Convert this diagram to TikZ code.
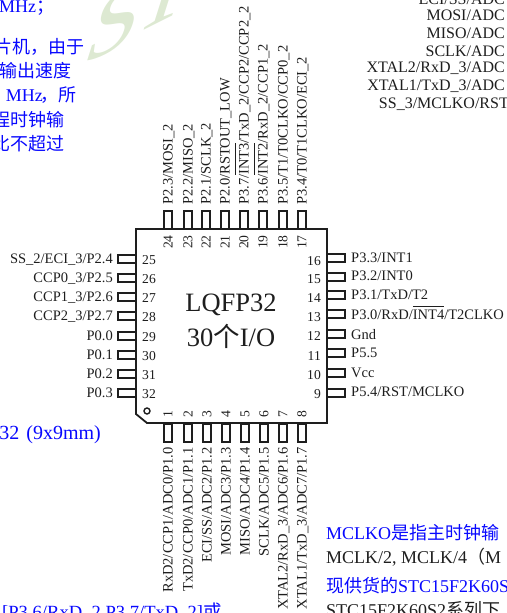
\documentclass[tikz,border=0pt]{standalone}
\usepackage{xcolor}
\usepackage{fontspec}
\setmainfont{Liberation Serif}
\newfontfamily\cjk{Noto Sans CJK SC}
\definecolor{notecolor}{HTML}{0808ff}
\definecolor{inkcolor}{HTML}{1e1e1e}
\definecolor{markcolor}{HTML}{dde9d2}
\tikzset{
  pinbox/.style={draw=inkcolor, line width=1.6pt, rectangle, inner sep=0pt, minimum width=18pt, minimum height=8pt},
  pinboxv/.style={draw=inkcolor, line width=1.6pt, rectangle, inner sep=0pt, minimum width=8pt, minimum height=18pt},
  pintext/.style={text=inkcolor, inner sep=0pt, text height=10pt, text depth=1pt, font=\fontsize{14.5pt}{16pt}\selectfont},
  pinnum/.style={text=inkcolor, inner sep=0pt, font=\fontsize{13.6pt}{15pt}\selectfont},
  bignote/.style={text=notecolor, inner sep=0pt, font=\fontsize{18pt}{20pt}\selectfont},
  darknote/.style={text=inkcolor, inner sep=0pt, font=\fontsize{18pt}{20pt}\selectfont},
  sidetext/.style={text=inkcolor, inner sep=0pt, anchor=east, font=\fontsize{16pt}{18pt}\selectfont},
  chiptext/.style={text=inkcolor, inner sep=0pt, font=\fontsize{26.5pt}{30pt}\selectfont},
  markglyph/.style={text=markcolor, inner sep=0pt, transform shape, cm={0.9,0.45,0.3,0.95,(0,0)}, font=\fontsize{105pt}{110pt}\selectfont}
}
\newcommand{\barred}[1]{$\overline{\mbox{\rule{0pt}{11.5pt}#1}}$}
\begin{document}
\begin{tikzpicture}[x=1pt, y=-1pt]%
\useasboundingbox (0,0) rectangle (506,613);%
\clip (0,0) rectangle (506,613);%
% watermark
\node[markglyph] (markS) at (117,21) {S};%
\node[markglyph] (markT) at (169,-10) {T};%
% notes, upper left
\node[bignote, anchor=west] (noteA) at (-1,8) {MHz{\cjk ；}};%
\node[bignote, anchor=east] (noteB) at (85,47) {\cjk 片机，由于};%
\node[bignote, anchor=east] (noteC) at (72,71) {\cjk 输出速度};%
\node[bignote, anchor=east] (noteD) at (77,95) {MHz\kern-2pt{\cjk ，所}};%
\node[bignote, anchor=east] (noteE) at (65,120) {\cjk 程时钟输};%
\node[bignote, anchor=east] (noteF) at (65,144) {\cjk 比不超过};%
\node[bignote, anchor=east, font=\fontsize{20pt}{22pt}\selectfont] (noteG) at (101,435) {32\hspace{7pt}(9x9mm)};%
\node[bignote, anchor=west, font=\fontsize{18.6pt}{20pt}\selectfont] (noteH) at (2,612) {[P3.6/RxD\_2,P3.7/TxD\_2]{\cjk 或}};%
% notes, upper right
\node[sidetext] (sideA) at (505,-1) {ECI/SS/ADC};%
\node[sidetext] (sideB) at (505,15) {MOSI/ADC};%
\node[sidetext] (sideC) at (505,33) {MISO/ADC};%
\node[sidetext] (sideD) at (505,51) {SCLK/ADC};%
\node[sidetext] (sideE) at (505,68) {XTAL2/RxD\_3/ADC};%
\node[sidetext] (sideF) at (505,86) {XTAL1/TxD\_3/ADC};%
\node[sidetext] (sideG) at (509,104) {SS\_3/MCLKO/RST};%
% notes, lower right
\node[bignote, anchor=west] (noteI) at (326,533) {MCLKO{\cjk 是指主时钟输}};%
\node[darknote, anchor=west] (noteJ) at (326,557) {MCLK/2, MCLK/4{\cjk （}M};%
\node[bignote, anchor=west] (noteK) at (326,586) {{\cjk 现供货的}STC15F2K60S2};%
\node[darknote, anchor=west] (noteL) at (326,610) {STC15F2K60S2{\cjk 系列下}};%
% chip
\draw[inkcolor, line width=1.8pt] (136,229) -- (327,229) -- (327,423) -- (147,423) -- (136,414) -- cycle;%
\node[chiptext] (chipA) at (231,305) {LQFP32};%
\node[chiptext] (chipB) at (231,336) {30{\cjk 个}I/O};%
\node[draw=inkcolor, line width=1.4pt, circle, inner sep=0pt, minimum size=6pt] (dotA) at (147,411) {};%
% pins, top
\node[pinboxv] (pinA) at (168,220) {};%
\node[pinboxv] (pinB) at (188,220) {};%
\node[pinboxv] (pinC) at (206,220) {};%
\node[pinboxv] (pinD) at (225,220) {};%
\node[pinboxv] (pinE) at (244,220) {};%
\node[pinboxv] (pinF) at (263,220) {};%
\node[pinboxv] (pinG) at (283,220) {};%
\node[pinboxv] (pinH) at (302,220) {};%
\node[pintext, rotate=90, anchor=west] at (168,205) {P2.3/MOSI\_2};%
\node[pintext, rotate=90, anchor=west] at (188,205) {P2.2/MISO\_2};%
\node[pintext, rotate=90, anchor=west] at (206,205) {P2.1/SCLK\_2};%
\node[pintext, rotate=90, anchor=west] at (225,205) {P2.0/RSTOUT\_LOW};%
\node[pintext, rotate=90, anchor=west] at (244,205) {P3.7/\barred{INT3}/TxD\_2/CCP2/CCP2\_2};%
\node[pintext, rotate=90, anchor=west] at (263,205) {P3.6/\barred{INT2}/RxD\_2/CCP1\_2};%
\node[pintext, rotate=90, anchor=west] at (283,205) {P3.5/T1/T0CLKO/CCP0\_2};%
\node[pintext, rotate=90, anchor=west] at (302,205) {P3.4/T0/T1CLKO/ECI\_2};%
\node[pinnum, rotate=90] at (168,242) {24};%
\node[pinnum, rotate=90] at (188,242) {23};%
\node[pinnum, rotate=90] at (206,242) {22};%
\node[pinnum, rotate=90] at (225,242) {21};%
\node[pinnum, rotate=90] at (244,242) {20};%
\node[pinnum, rotate=90] at (263,242) {19};%
\node[pinnum, rotate=90] at (283,242) {18};%
\node[pinnum, rotate=90] at (302,242) {17};%
% pins, left
\node[pinbox] (pinI) at (127,259) {};%
\node[pinbox] (pinJ) at (127,278) {};%
\node[pinbox] (pinK) at (127,297) {};%
\node[pinbox] (pinL) at (127,316) {};%
\node[pinbox] (pinM) at (127,336) {};%
\node[pinbox] (pinN) at (127,355) {};%
\node[pinbox] (pinO) at (127,374) {};%
\node[pinbox] (pinP) at (127,393) {};%
\node[pintext, anchor=east] at (113,259) {SS\_2/ECI\_3/P2.4};%
\node[pintext, anchor=east] at (113,278) {CCP0\_3/P2.5};%
\node[pintext, anchor=east] at (113,297) {CCP1\_3/P2.6};%
\node[pintext, anchor=east] at (113,316) {CCP2\_3/P2.7};%
\node[pintext, anchor=east] at (113,336) {P0.0};%
\node[pintext, anchor=east] at (113,355) {P0.1};%
\node[pintext, anchor=east] at (113,374) {P0.2};%
\node[pintext, anchor=east] at (113,393) {P0.3};%
\node[pinnum] at (149,260) {25};%
\node[pinnum] at (149,279) {26};%
\node[pinnum] at (149,298) {27};%
\node[pinnum] at (149,317) {28};%
\node[pinnum] at (149,337) {29};%
\node[pinnum] at (149,356) {30};%
\node[pinnum] at (149,375) {31};%
\node[pinnum] at (149,394) {32};%
% pins, bottom
\node[pinboxv] (pinQ) at (168,433) {};%
\node[pinboxv] (pinR) at (188,433) {};%
\node[pinboxv] (pinS) at (207,433) {};%
\node[pinboxv] (pinT) at (226,433) {};%
\node[pinboxv] (pinU) at (245,433) {};%
\node[pinboxv] (pinV) at (264,433) {};%
\node[pinboxv] (pinW) at (283,433) {};%
\node[pinboxv] (pinX) at (302,433) {};%
\node[pintext, rotate=90, anchor=east] at (168,447) {RxD2/CCP1/ADC0/P1.0};%
\node[pintext, rotate=90, anchor=east] at (188,447) {TxD2/CCP0/ADC1/P1.1};%
\node[pintext, rotate=90, anchor=east] at (207,447) {ECI/SS/ADC2/P1.2};%
\node[pintext, rotate=90, anchor=east] at (226,447) {MOSI/ADC3/P1.3};%
\node[pintext, rotate=90, anchor=east] at (245,447) {MISO/ADC4/P1.4};%
\node[pintext, rotate=90, anchor=east] at (264,447) {SCLK/ADC5/P1.5};%
\node[pintext, rotate=90, anchor=east] at (283,447) {XTAL2/RxD\_3/ADC6/P1.6};%
\node[pintext, rotate=90, anchor=east] at (302,447) {XTAL1/TxD\_3/ADC7/P1.7};%
\node[pinnum, rotate=90] at (168,414) {1};%
\node[pinnum, rotate=90] at (188,414) {2};%
\node[pinnum, rotate=90] at (207,414) {3};%
\node[pinnum, rotate=90] at (226,414) {4};%
\node[pinnum, rotate=90] at (245,414) {5};%
\node[pinnum, rotate=90] at (264,414) {6};%
\node[pinnum, rotate=90] at (283,414) {7};%
\node[pinnum, rotate=90] at (302,414) {8};%
% pins, right
\node[pinbox] (pinY) at (336,258) {};%
\node[pinbox] (pinZ) at (336,277) {};%
\node[pinbox] (pinAa) at (336,295) {};%
\node[pinbox] (pinAb) at (336,314) {};%
\node[pinbox] (pinAc) at (336,334) {};%
\node[pinbox] (pinAd) at (336,353) {};%
\node[pinbox] (pinAe) at (336,373) {};%
\node[pinbox] (pinAf) at (336,393) {};%
\node[pintext, anchor=west] at (351,258) {P3.3/INT1};%
\node[pintext, anchor=west] at (351,276) {P3.2/INT0};%
\node[pintext, anchor=west] at (351,295) {P3.1/TxD/T2};%
\node[pintext, anchor=west] at (351,315) {P3.0/RxD/\barred{INT4}/T2CLKO};%
\node[pintext, anchor=west] at (351,335) {Gnd};%
\node[pintext, anchor=west] at (351,353) {P5.5};%
\node[pintext, anchor=west] at (351,373) {Vcc};%
\node[pintext, anchor=west] at (351,392) {P5.4/RST/MCLKO};%
\node[pinnum, anchor=east] at (321,261) {16};%
\node[pinnum, anchor=east] at (321,279) {15};%
\node[pinnum, anchor=east] at (321,298) {14};%
\node[pinnum, anchor=east] at (321,317) {13};%
\node[pinnum, anchor=east] at (321,336) {12};%
\node[pinnum, anchor=east] at (321,356) {11};%
\node[pinnum, anchor=east] at (321,375) {10};%
\node[pinnum, anchor=east] at (321,394) {9};%
\end{tikzpicture}
\end{document}
